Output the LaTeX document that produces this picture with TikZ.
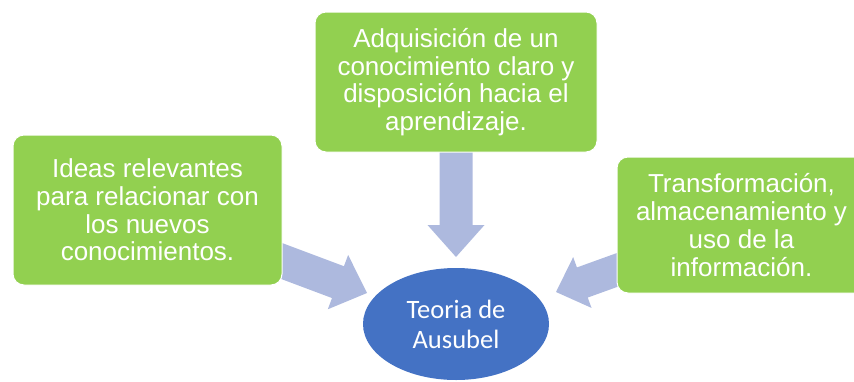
\documentclass[tikz,border=0pt]{standalone}
\usepackage{fontspec}
\setmainfont{Liberation Sans}
\newfontfamily\calibrifont{Carlito}
\usetikzlibrary{calc,shapes.geometric}
\definecolor{boxgreen}{HTML}{92D050}
\definecolor{ellblue}{HTML}{4472C4}
\definecolor{arrblue}{HTML}{ADB9DE}
\tikzset{
  greenbox/.style={rectangle, rounded corners=11pt, fill=boxgreen, draw=white,
    line width=1pt, text=white, align=center, inner sep=0pt,
    font=\fontsize{26}{27.7}\selectfont},
  ellnode/.style={ellipse, fill=ellblue, draw=none, text=white, align=center,
    inner sep=0pt, font=\calibrifont\fontsize{26.5}{30}\selectfont},
  blockarrow/.style={fill=arrblue, draw=none}
}
% #1 start, #2 tip, #3 head length, #4 half head width, #5 half shaft width
\newcommand{\blockarr}[5]{%
  \coordinate (#1-h) at ($(#2)!#3!(#1)$);
  \fill[blockarrow] ($(#1)!#5!90:(#2)$) -- ($(#1-h)!#5!90:(#2)$)
    -- ($(#1-h)!#4!90:(#2)$) -- (#2) -- ($(#1-h)!#4!-90:(#2)$)
    -- ($(#1-h)!#5!-90:(#2)$) -- ($(#1)!#5!-90:(#2)$) -- cycle;
}
\begin{document}
\begin{tikzpicture}[x=1pt,y=-1pt]
  \useasboundingbox (0,0) rectangle (854,381);
  \clip (0,0) rectangle (854,381);
  % arrow anchors
  \coordinate (sl) at (273.6,258);
  \coordinate (tl) at (367,293);
  \coordinate (st) at (456,145);
  \coordinate (tt) at (456,257);
  \coordinate (sr) at (626.4,266.6);
  \coordinate (tr) at (556,292);
  \blockarr{sl}{tl}{31pt}{29pt}{17pt}
  \blockarr{st}{tt}{32pt}{28.5pt}{16.5pt}
  \blockarr{sr}{tr}{28pt}{27pt}{16pt}
  % boxes
  \node[greenbox, minimum width=269pt, minimum height=150pt] (left) at (147.5,210)
    {Ideas relevantes\\para relacionar con\\los nuevos\\conocimientos.};
  \node[greenbox, minimum width=282pt, minimum height=140pt] (top) at (456,82)
    {Adquisición de un\\conocimiento claro y\\disposición hacia el\\aprendizaje.};
  \node[greenbox, minimum width=249pt, minimum height=136pt] (right) at (741.5,225)
    {Transformación,\\almacenamiento y\\uso de la\\información.};
  \node[ellnode, minimum width=186pt, minimum height=112pt] (teoria) at (456,324)
    {Teoria de\\Ausubel};
\end{tikzpicture}
\end{document}
